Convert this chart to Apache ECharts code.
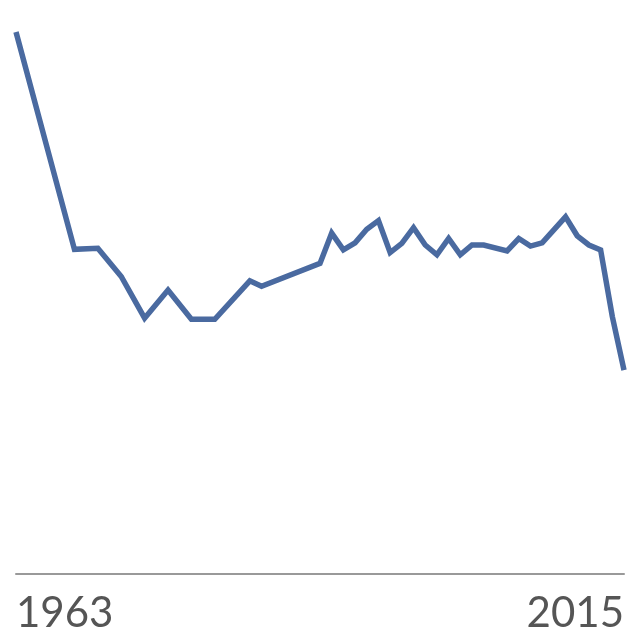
<!DOCTYPE html>
<html>
<head>
    <meta charset="utf-8">
    <title>Line 1963-2015</title>
    <script src="https://cdn.jsdelivr.net/npm/echarts@6/dist/echarts.min.js"></script>
    <style>
        html, body { margin: 0; padding: 0; background: #fff; }
        #line { width: 640px; height: 640px; }
    </style>
</head>
<body>
<div id="line"></div>
<script type="text/javascript">
    // years on the x axis
    var years = [];
    for (var y = 1963; y <= 2015; y++) years.push(String(y));

    // values (null = no point that year)
    var valueByYear = {
        1963: 100, 1968: 59.9, 1970: 60.1, 1972: 54.9, 1974: 47.2,
        1976: 52.4, 1978: 47.0, 1980: 47.0, 1983: 54.1, 1984: 53.1,
        1989: 57.3, 1990: 62.9, 1991: 59.8, 1992: 61.1, 1993: 63.6,
        1994: 65.2, 1995: 59.3, 1996: 61.0, 1997: 63.9, 1998: 60.7,
        1999: 58.9, 2000: 61.9, 2001: 58.9, 2002: 60.7, 2003: 60.7,
        2005: 59.6, 2006: 61.9, 2007: 60.5, 2008: 61.1, 2010: 65.9,
        2011: 62.4, 2012: 60.7, 2013: 59.8, 2014: 47.5, 2015: 37.6
    };
    var values = years.map(function (yr) {
        return valueByYear[yr] !== undefined ? valueByYear[yr] : null;
    });

    var myLine = echarts.init(document.getElementById('line'));
    var lineOption = {
        animation: false,
        grid: {
            left: 16,
            right: 16,
            top: 32,
            bottom: 66
        },
        xAxis: {
            type: 'category',
            boundaryGap: false,
            data: years,
            axisLine: { show: true, lineStyle: { color: '#999', width: 2 } },
            axisTick: { show: false },
            splitLine: { show: false },
            axisLabel: {
                interval: function (index) {
                    return index === 0 || index === years.length - 1;
                },
                alignMinLabel: 'left',
                alignMaxLabel: 'right',
                margin: 18,
                fontFamily: 'Lato',
                fontSize: 42,
                color: '#555'
            }
        },
        yAxis: {
            type: 'value',
            min: 0,
            max: 100,
            show: false,
            splitLine: { show: false }
        },
        series: [{
            type: 'line',
            data: values,
            connectNulls: true,
            showSymbol: false,
            symbol: 'none',
            lineStyle: { color: '#4a6aa0', width: 5.5, join: 'miter' }
        }]
    };
    myLine.setOption(lineOption);
</script>
</body>
</html>
